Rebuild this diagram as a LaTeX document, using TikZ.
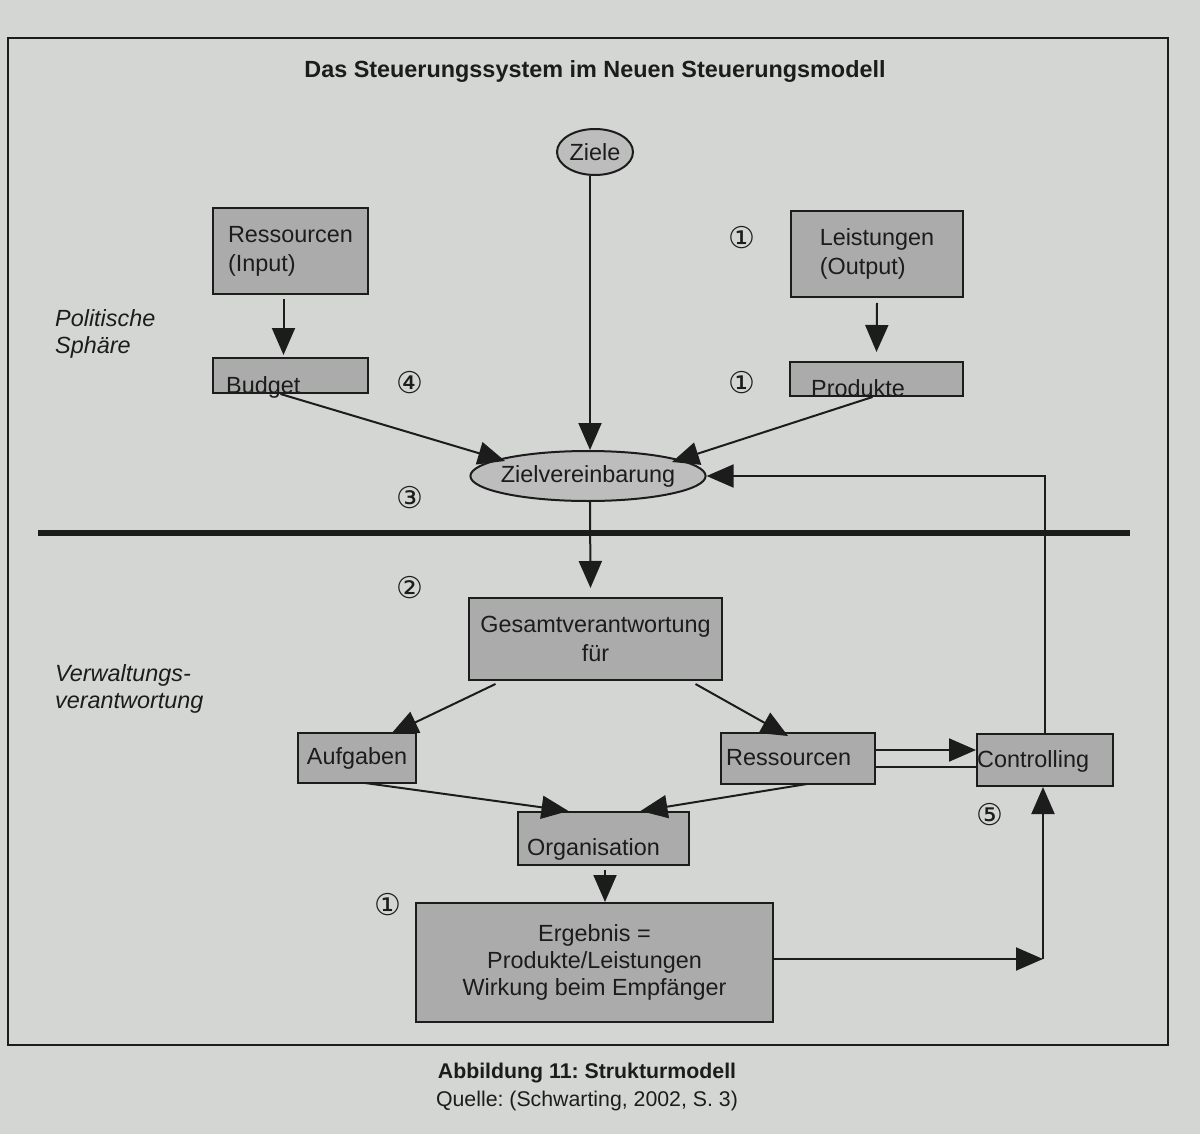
\documentclass[tikz,border=0pt]{standalone}
\usepackage{fontspec}
\setmainfont{Liberation Sans}
\newfontfamily\circfont{DejaVu Sans}
\usetikzlibrary{arrows.meta,shapes.geometric}
\definecolor{paper}{HTML}{D4D6D4}
\definecolor{boxgray}{HTML}{ABABAB}
\definecolor{ellgray}{HTML}{BDBDBD}
\definecolor{ink}{HTML}{1C1C1C}
\tikzset{
 box/.style={draw=ink, line width=2pt, fill=boxgray, inner sep=0pt, align=center, text=ink},
 oval/.style={ellipse, draw=ink, line width=2pt, fill=ellgray, inner sep=0pt, text=ink},
 txt/.style={text=ink, inner sep=0pt},
 arr/.style={draw=ink, line width=2pt, -{Triangle[length=27pt,width=23pt]}},
 ln/.style={draw=ink, line width=2pt},
 num/.style={text=ink, inner sep=0pt, font=\circfont\fontsize{30}{32}\selectfont},
}
\begin{document}
\frenchspacing
\begin{tikzpicture}[x=1pt,y=-1pt, font=\fontsize{23.4}{29}\selectfont]
\useasboundingbox (0,0) rectangle (1200,1134);
\fill[paper] (0,0) rectangle (1200,1134);
% frame
\draw[ln] (8,38) rectangle (1168,1045);
% title
\node[txt, font=\bfseries\fontsize{23.4}{29}\selectfont] (title) at (595,72) {Das Steuerungssystem im Neuen Steuerungsmodell};
% side labels
\node[txt, anchor=north west, align=left, font=\itshape\fontsize{23.4}{27}\selectfont] (pol) at (55,309) {Politische\\Sphäre};
\node[txt, anchor=north west, align=left, font=\itshape\fontsize{23.4}{27}\selectfont] (verw) at (55,664) {Verwaltungs-\\verantwortung};
% nodes
\node[oval, minimum width=76pt, minimum height=46pt] (ziele) at (595,152) {Ziele};
\node[box, minimum width=155pt, minimum height=86pt, align=left] (resin) at (290.5,251) {Ressourcen\\(Input)};
\node[box, minimum width=172pt, minimum height=86pt, align=left] (leist) at (877,254) {Leistungen\\(Output)};
\node[box, minimum width=155pt, minimum height=35pt] (budget) at (290.5,375.5) {};
\node[txt, anchor=base west] (budgettxt) at (226,393) {Budget};
\node[box, minimum width=173pt, minimum height=34pt] (produkte) at (876.5,379) {};
\node[txt, anchor=base west] (produktetxt) at (811,396) {Produkte};
\node[oval, inner xsep=-4pt, inner ysep=-2pt, minimum width=234pt, minimum height=50pt] (zielv) at (588,476) {Zielvereinbarung};
\node[box, minimum width=253pt, minimum height=82pt] (gesamt) at (595.5,639) {Gesamtverantwortung\\für};
\node[box, minimum width=118pt, minimum height=50pt] (aufg) at (357,758) {Aufgaben};
\node[box, minimum width=154pt, minimum height=51pt] (ress) at (798,758.5) {};
\node[txt, anchor=base west] (resstxt) at (726,765) {Ressourcen};
\node[box, minimum width=136pt, minimum height=52pt] (contr) at (1045,760) {};
\node[txt, anchor=base west] (contrtxt) at (977,767) {Controlling};
\node[box, minimum width=171pt, minimum height=53pt] (org) at (603.5,838.5) {};
\node[txt, anchor=base west] (orgtxt) at (527,855) {Organisation};
\node[box, minimum width=357pt, minimum height=119pt, font=\fontsize{23.4}{27}\selectfont] (erg) at (594.5,962.5) {Ergebnis =\\Produkte/Leistungen\\Wirkung beim Empfänger};
% numbers
\node[num] (n1a) at (742,238) {①};
\node[num] (n1b) at (742,383) {①};
\node[num] (n4) at (410,383) {④};
\node[num] (n3) at (410,498) {③};
\node[num] (n2) at (410,588) {②};
\node[num] (n5) at (990,815) {⑤};
\node[num] (n1c) at (388,905) {①};
% separator
\coordinate (sepL) at (38,533);
\coordinate (sepR) at (1130,533);
\draw[draw=ink, line width=6pt] (sepL) -- (sepR);
% connectors
\draw[arr] ([xshift=-7pt,yshift=-4pt]resin.south) -- ([xshift=-7pt,yshift=2pt]budget.north);
\draw[arr] ([yshift=-5pt]leist.south) -- ([yshift=9pt]produkte.north);
\draw[arr] ([xshift=-5pt]ziele.south) -- (590,450);
\draw[arr] ([xshift=-10pt]budget.south) -- (505,461);
\draw[arr] ([xshift=-4pt]produkte.south) -- (672,462);
\draw[arr] (contr.north) -- (contr.north |- zielv.east) -- (zielv.east);
\draw[arr] ([xshift=2pt]zielv.south) -- ([xshift=-5pt,yshift=9pt]gesamt.north);
\draw[arr] ([xshift=-100pt,yshift=-3pt]gesamt.south) -- ([xshift=34pt,yshift=-2pt]aufg.north);
\draw[arr] ([xshift=100pt,yshift=-3pt]gesamt.south) -- ([xshift=-10pt,yshift=-4pt]ress.north);
\draw[arr] ([xshift=8pt,yshift=1pt]aufg.south) -- ([xshift=-35pt]org.north);
\draw[arr] ([xshift=9pt,yshift=1pt]ress.south) -- ([xshift=37pt]org.north);
\draw[arr] ([yshift=8.5pt]ress.east) -- ([yshift=10pt]contr.west);
\draw[ln] ([yshift=-8.5pt]ress.east) -- ([yshift=-7pt]contr.west);
\draw[arr] ([xshift=1.5pt,yshift=-4pt]org.south) -- ([xshift=1.5pt]org.south |- erg.north);
\coordinate (corner) at (1043,959);
\draw[arr] (erg.east |- corner) -- (corner);
\draw[arr] (corner) -- (corner |- contr.south);
% caption
\node[txt, font=\bfseries\fontsize{21.3}{26}\selectfont] (cap) at (587,1073) {Abbildung 11: Strukturmodell};
\node[txt, font=\fontsize{21.3}{26}\selectfont] (src) at (587,1101) {Quelle: (Schwarting, 2002, S. 3)};
\end{tikzpicture}
\end{document}
